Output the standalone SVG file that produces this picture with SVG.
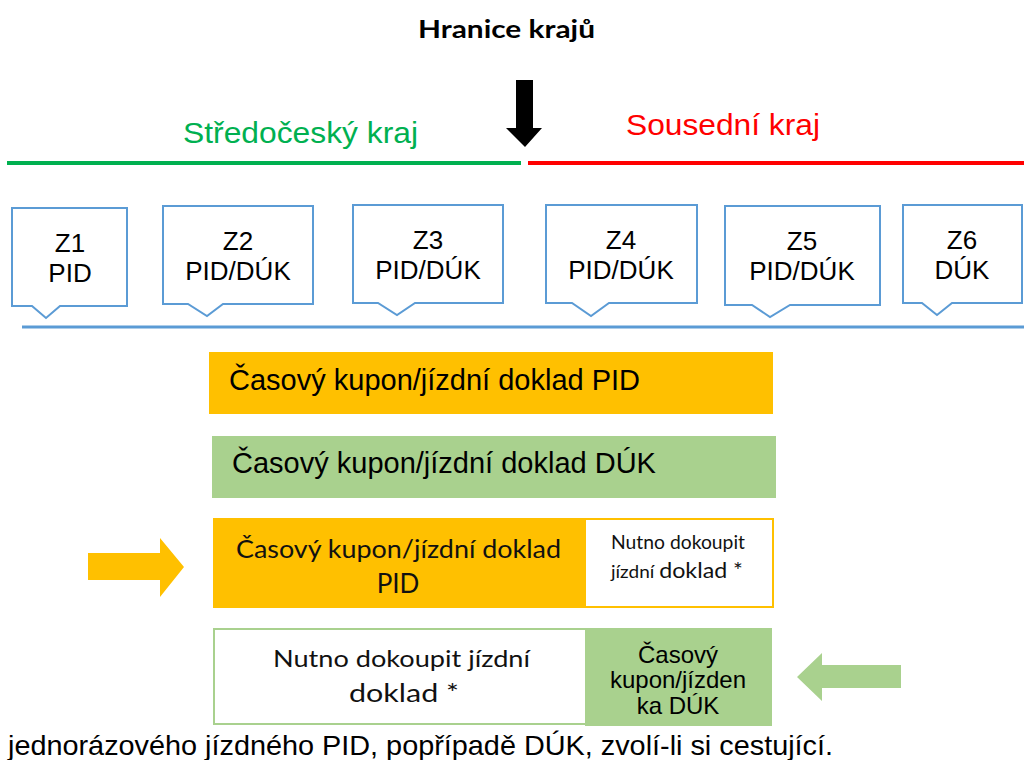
<svg xmlns="http://www.w3.org/2000/svg" width="1024" height="760" viewBox="0 0 1024 760">
<style>
.ar{font-family:"Liberation Sans",Arial,sans-serif;fill:#000}
.cal{font-family:Lato,"Liberation Sans",sans-serif;fill:#111}
.zone{fill:#fff;stroke:#5B9BD5;stroke-width:2}
.zt{font-family:"Liberation Sans",Arial,sans-serif;font-size:26px;text-anchor:middle;fill:#000}
</style>
<rect width="1024" height="760" fill="#fff"/>
<g id="title">
<text x="418" y="38" font-family="Lato, 'Liberation Sans', sans-serif" font-weight="bold" font-size="24" textLength="177" lengthAdjust="spacingAndGlyphs" fill="#000">Hranice krajů</text>
</g>
<g id="border-arrow">
<path d="M516,80 H533 V128 H542 L525,147 L506,128 H516 Z" fill="#000"/>
</g>
<g id="regions">
<text x="183" y="143" class="ar" font-size="30" textLength="235" lengthAdjust="spacingAndGlyphs" style="fill:#00B050">Středočeský kraj</text>
<text x="626" y="135" class="ar" font-size="30" textLength="194" lengthAdjust="spacingAndGlyphs" style="fill:#FF0000">Sousední kraj</text>
<line x1="7" y1="163" x2="521" y2="163" stroke="#00B050" stroke-width="4"/>
<line x1="528" y1="163" x2="1024" y2="163" stroke="#FF0000" stroke-width="4"/>
</g>
<g id="connectors">
<line x1="22" y1="327" x2="1024" y2="327" stroke="#5B9BD5" stroke-width="3"/>
</g>
<g id="z1">
<path class="zone" d="M12,208 H127 V306 H60 L46,318 L32,306 H12 Z"/>
<text class="zt" x="70" y="252">Z1</text>
<text class="zt" x="70" y="282">PID</text>
</g>
<g id="z2">
<path class="zone" d="M163,206 H313 V304 H223 L207,316 L188,304 H163 Z"/>
<text class="zt" x="238" y="250">Z2</text>
<text class="zt" x="238" y="280">PID/DÚK</text>
</g>
<g id="z3">
<path class="zone" d="M353,205 H503 V303 H415 L397,315 L378,303 H353 Z"/>
<text class="zt" x="428" y="249">Z3</text>
<text class="zt" x="428" y="279">PID/DÚK</text>
</g>
<g id="z4">
<path class="zone" d="M546,205 H697 V303 H609 L591,316 L572,303 H546 Z"/>
<text class="zt" x="621" y="249">Z4</text>
<text class="zt" x="621" y="279">PID/DÚK</text>
</g>
<g id="z5">
<path class="zone" d="M725,206 H880 V305 H790 L770,317 L752,305 H725 Z"/>
<text class="zt" x="802" y="250">Z5</text>
<text class="zt" x="802" y="280">PID/DÚK</text>
</g>
<g id="z6">
<path class="zone" d="M903,205 H1022 V303 H952 L937,315 L922,303 H903 Z"/>
<text class="zt" x="962" y="249">Z6</text>
<text class="zt" x="962" y="279">DÚK</text>
</g>
<g id="bar-pid">
<rect x="209" y="352" width="564" height="62" fill="#FFC000"/>
<text x="229" y="390" class="ar" font-size="29">Časový kupon/jízdní doklad PID</text>
</g>
<g id="bar-duk">
<rect x="212" y="436" width="564" height="62" fill="#A9D18E"/>
<text x="232" y="473" class="ar" font-size="29">Časový kupon/jízdní doklad DÚK</text>
</g>
<g id="row3">
<path d="M88,553 H160 V538 L184,567 L160,597 V580 H88 Z" fill="#FFC000"/>
<rect x="213" y="518" width="372" height="90" fill="#FFC000"/>
<rect x="585" y="519" width="188" height="88" fill="#fff" stroke="#FFC000" stroke-width="2"/>
<text x="236" y="558" class="cal" font-size="25" textLength="325" lengthAdjust="spacingAndGlyphs">Časový kupon/jízdní doklad</text>
<text x="398" y="593" class="cal" font-size="26" text-anchor="middle">PID</text>
<text x="611" y="549" class="cal" font-size="19" textLength="134" lengthAdjust="spacingAndGlyphs">Nutno dokoupit</text>
<text x="611" y="578" class="cal" textLength="132" lengthAdjust="spacingAndGlyphs"><tspan font-size="18">jízdní </tspan><tspan font-size="22">doklad *</tspan></text>
</g>
<g id="row4">
<rect x="214" y="629" width="372" height="95" fill="#fff" stroke="#A9D18E" stroke-width="2"/>
<rect x="585" y="628" width="187" height="98" fill="#A9D18E"/>
<text x="273" y="667" class="cal" font-size="24" textLength="257" lengthAdjust="spacingAndGlyphs">Nutno dokoupit jízdní</text>
<text x="349" y="702" class="cal" font-size="25" textLength="110" lengthAdjust="spacingAndGlyphs">doklad *</text>
<text x="678" y="663" class="ar" font-size="24" text-anchor="middle">Časový</text>
<text x="678" y="688" class="ar" font-size="24" text-anchor="middle">kupon/jízden</text>
<text x="678" y="714" class="ar" font-size="24" text-anchor="middle">ka DÚK</text>
<path d="M901,665 H822 V653 L797,677 L822,701 V688 H901 Z" fill="#A9D18E"/>
</g>
<g id="footnote">
<text x="8" y="755" class="ar" font-size="28.5" textLength="825" lengthAdjust="spacingAndGlyphs">jednorázového jízdného PID, popřípadě DÚK, zvolí-li si cestující.</text>
</g>
</svg>
